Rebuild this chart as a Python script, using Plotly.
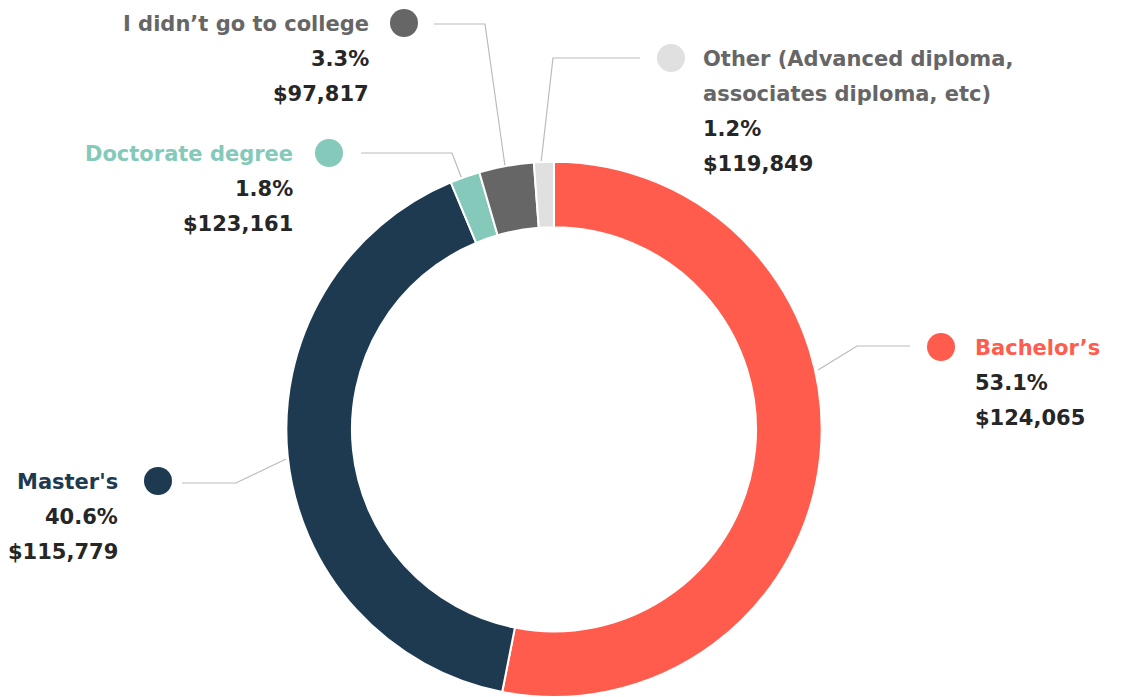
import plotly.graph_objects as go

# Education level breakdown: share of respondents and average salary
categories = ["Bachelor\u2019s", "Master's", "Doctorate degree",
              "I didn\u2019t go to college",
              "Other (Advanced diploma,\nassociates diploma, etc)"]
shares = [53.1, 40.6, 1.8, 3.3, 1.2]
salaries = ["$124,065", "$115,779", "$123,161", "$97,817", "$119,849"]

slice_colors = ["#FF5C4D", "#1E3A51", "#85C9BB", "#666666", "#E0E0E0"]
title_colors = ["#FF5C4D", "#1E3A51", "#85C9BB", "#666666", "#666666"]
value_color = "#262626"
leader_color = "#BBBBBB"

W, H = 1123, 697
FONT = "DejaVu Sans"
FSIZE = 21

# Label placement (pixels): dot centre, text anchor side, leader-line path
label_layout = [
    dict(dot=(941, 347), side="left", text_x=973, line=[(910, 346), (857, 346), (818, 370)]),
    dict(dot=(158, 481), side="right", text_x=120, line=[(182, 483), (236, 483), (286, 459)]),
    dict(dot=(329, 153), side="right", text_x=295, line=[(361, 153), (452, 153), (463, 182)]),
    dict(dot=(404, 23), side="right", text_x=371, line=[(434, 24), (485, 24), (505, 166)]),
    dict(dot=(671, 58), side="left", text_x=701, line=[(640, 58), (553, 58), (541, 163)]),
]

fig = go.Figure()

# Donut ring
cx = 554 / W
fig.add_trace(go.Pie(
    labels=[c.replace("\n", " ") for c in categories], values=shares,
    sort=False, direction="clockwise", rotation=0,
    hole=0.755,
    marker=dict(colors=slice_colors, line=dict(color="white", width=2)),
    textinfo="none", hoverinfo="skip", showlegend=False,
    domain=dict(x=[cx - 0.3, cx + 0.3], y=[0, 0.768]),
))

# Leader lines
for lay in label_layout:
    fig.add_trace(go.Scatter(
        x=[p[0] for p in lay["line"]], y=[p[1] for p in lay["line"]],
        mode="lines", line=dict(color=leader_color, width=1.2),
        hoverinfo="skip", showlegend=False,
    ))

# Coloured dots
fig.add_trace(go.Scatter(
    x=[l["dot"][0] for l in label_layout],
    y=[l["dot"][1] for l in label_layout],
    mode="markers",
    marker=dict(size=28, color=slice_colors, line=dict(width=0)),
    hoverinfo="skip", showlegend=False,
))

# Category names, shares and salaries, one annotation per text line
line_gap = 35
for cat, share, sal, tcol, lay in zip(categories, shares, salaries, title_colors, label_layout):
    anchor = lay["side"]
    rows = [(t, tcol) for t in cat.split("\n")]
    rows += [(f"{share}%", value_color), (sal, value_color)]
    y = lay["dot"][1] + 1
    for text, col in rows:
        fig.add_annotation(
            x=lay["text_x"], y=y, xref="x", yref="y",
            text=text, showarrow=False, xanchor=anchor, yanchor="middle",
            font=dict(family=FONT, size=FSIZE, color=col, weight="bold"),
        )
        y += line_gap

fig.update_layout(
    width=W, height=H,
    margin=dict(l=0, r=0, t=0, b=0),
    paper_bgcolor="white", plot_bgcolor="rgba(0,0,0,0)",
    xaxis=dict(range=[0, W], visible=False, fixedrange=True),
    yaxis=dict(range=[H, 0], visible=False, fixedrange=True),
    showlegend=False,
)

fig.write_html("out.html")
